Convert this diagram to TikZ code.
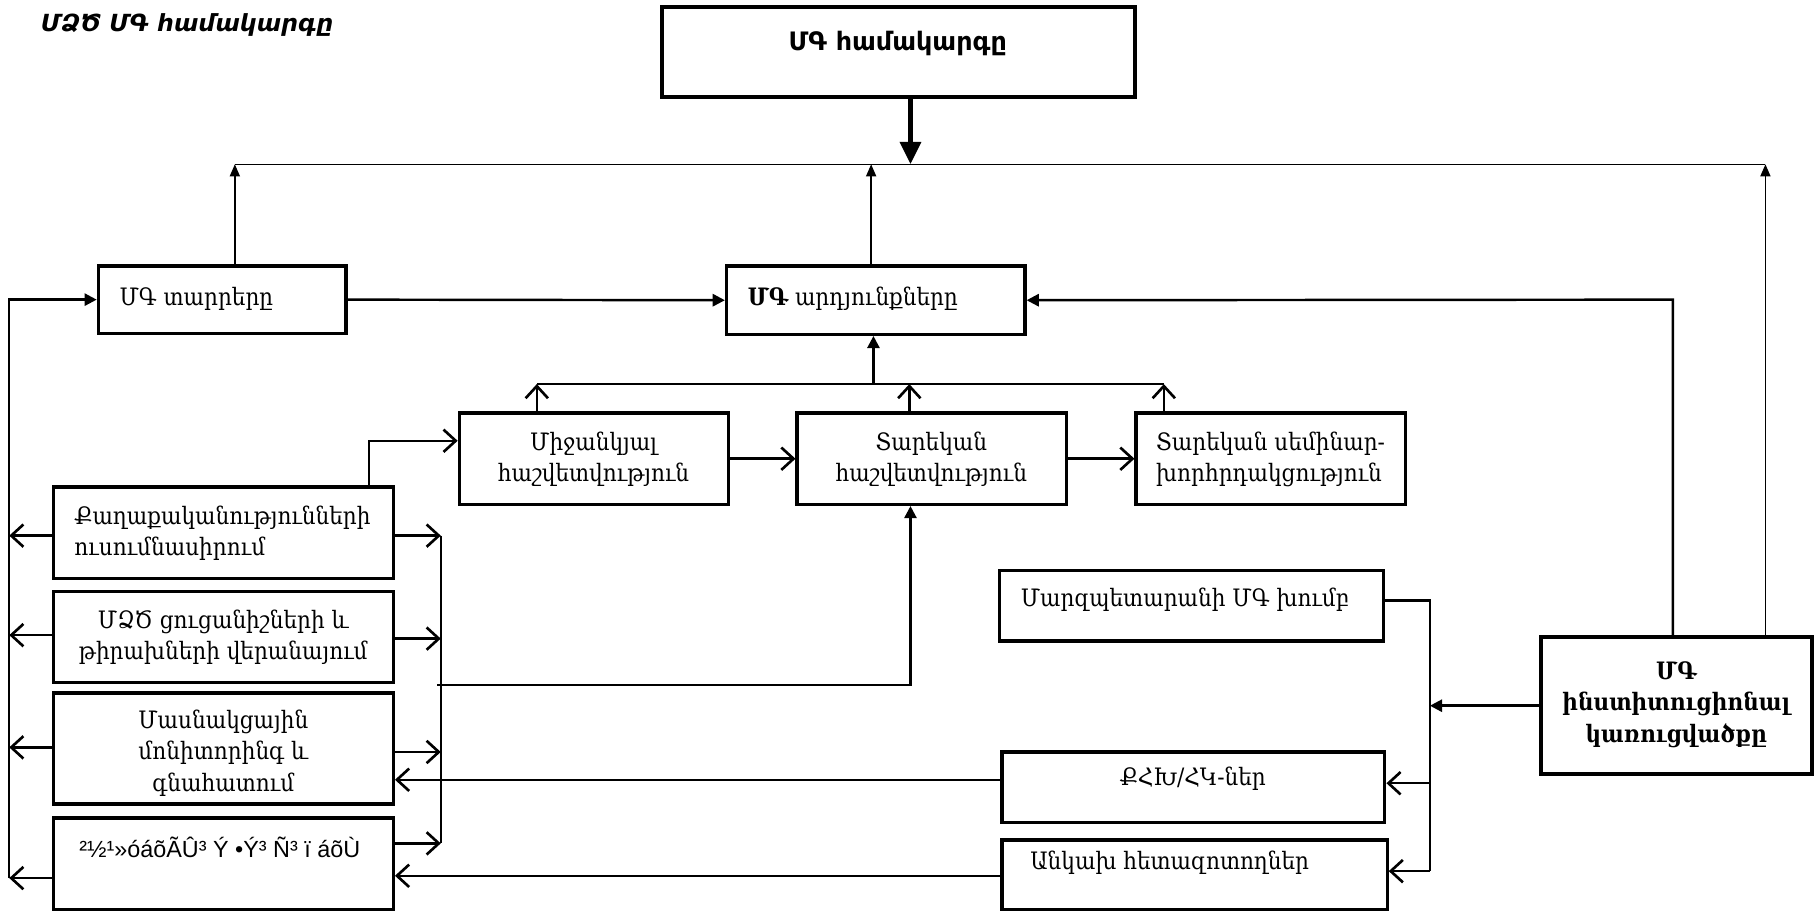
\documentclass[tikz,border=0pt]{standalone}
\usepackage{fontspec}
\setmainfont{DejaVu Serif}[FakeStretch=0.9]
\newfontfamily\armsans{DejaVu Sans}
\newfontfamily\latsans{Liberation Sans}
\usetikzlibrary{arrows.meta,fit}
\begin{document}
\begin{tikzpicture}[x=0.02cm,y=-0.02cm,
  box/.style={draw, line width=1.6pt, inner sep=0pt},
  bigbox/.style={draw, line width=2pt, inner sep=0pt},
  txt/.style={inner sep=0pt, font=\fontsize{11.8}{15.5}\selectfont},
  conn/.style={line width=1.2pt},
  thinline/.style={line width=0.7pt},
  thinarrow/.style={line width=0.7pt, -{Triangle[length=6pt,width=5pt]}},
  fil/.style={line width=1.2pt, -{Triangle[length=6pt,width=6pt]}},
  opn/.style={line width=1.2pt, -{Straight Barb[length=6pt,width=11pt,line width=1.3pt]}},
]
\useasboundingbox (0,0) rectangle (1568,788);

% title
\node[inner sep=0pt, anchor=west, font=\armsans\bfseries\itshape\fontsize{11.6}{14}\selectfont] (title) at (35,22) {ՄՁԾ ՄԳ համակարգը};

% boxes
\node[bigbox, fit={(572,6) (981,84)}] (top) {};
\node[inner sep=0pt, font=\armsans\bfseries\fontsize{12.5}{15}\selectfont] (topt) at (776,38) {ՄԳ համակարգը};

\node[box, fit={(85,230) (299,288)}] (elem) {};
\node[txt, anchor=west] (elemt) at (103,258) {ՄԳ տարրերը};

\node[box, fit={(628,230) (886,289)}] (res) {};
\node[txt, anchor=west] (rest) at (646,258) {{\bfseries ՄԳ} արդյունքները};

\node[box, fit={(397,357) (630,436)}] (mid) {};
\node[txt, align=center] (midt) at (513,397) {Միջանկյալ\\հաշվետվություն};

\node[box, fit={(689,357) (922,436)}] (ann) {};
\node[txt, align=center] (annt) at (805,397) {Տարեկան\\հաշվետվություն};

\node[box, fit={(982,357) (1215,436)}] (sem) {};
\node[txt, align=left, anchor=west] (semt) at (999,397) {Տարեկան սեմինար-\\խորհրդակցություն};

\node[box, fit={(46,421) (340,500)}] (pol) {};
\node[txt, align=left, anchor=west] (polt) at (64,461) {Քաղաքականությունների\\ուսումնասիրում};

\node[box, fit={(46,511) (340,590)}] (ind) {};
\node[txt, align=center] (indt) at (193,551) {ՄՁԾ ցուցանիշների և\\թիրախների վերանայում};

\node[box, fit={(46,599) (340,695)}] (part) {};
\node[txt, align=center] (partt) at (193,651) {Մասնակցային\\մոնիտորինգ և\\գնահատում};

\node[box, fit={(46,707) (340,786)}] (garb) {};
\node[inner sep=0pt, font=\latsans\fontsize{11.5}{14}\selectfont] (garbt) at (190,732) {²½¹»óáõÃÛ³ Ý •Ý³ Ñ³ ï  áõÙ};

\node[box, fit={(864,493) (1196,554)}] (marz) {};
\node[txt, anchor=west] (marzt) at (882,518) {Մարզպետարանի ՄԳ խումբ};

\node[box, fit={(866,650) (1197,711)}] (qhk) {};
\node[txt] (qhkt) at (1031,673) {ՔՀԽ/ՀԿ-ներ};

\node[box, fit={(866,726) (1199,786)}] (ank) {};
\node[txt] (ankt) at (1011,746) {Անկախ հետազոտողներ};

\node[bigbox, fit={(1332,551) (1566,669)}] (inst) {};
\node[txt, align=center, font=\bfseries\fontsize{11.8}{15.5}\selectfont] (instt) at (1449,609) {ՄԳ\\ինստիտուցիոնալ\\կառուցվածքը};

% bus coordinates
\coordinate (tb) at (787,142);
\coordinate (tl) at (203,142);
\coordinate (tr) at (1526,142);
\coordinate (lb1) at (8,259);
\coordinate (lb2) at (8,759);
\coordinate (rb1) at (381,463);
\coordinate (rb2) at (381,729);
\coordinate (br1) at (464,332);
\coordinate (br2) at (1006,332);
\coordinate (brm) at (755,332);
\coordinate (sb1) at (1236,519);
\coordinate (sb2) at (1236,753);
\coordinate (fb) at (378,592);
\coordinate (rr) at (1446,259);
\coordinate (pk) at (319,381);

% top part
\draw[line width=2.6pt, -{Triangle[length=11pt,width=10pt]}] (top.south -| tb) -- (tb);
\draw[thinline] (tl) -- (tr);
\draw[thinarrow] (elem.north -| tl) -- (tl);
\draw[thinarrow] (res.north -| 753,0) -- (753,142);
\draw[thinarrow] (inst.north -| tr) -- (tr);

\draw[fil] (elem.east) -- (res.west);
\draw[fil] (inst.north -| rr) -- (rr) -- (res.east);

% left bus
\draw[fil] (lb2) -- (lb1) -- (elem.west);
\draw[opn] (pol.west |- 0,463) -- (lb1 |- 0,463);
\draw[opn] (ind.west |- 0,549) -- (lb1 |- 0,549);
\draw[opn] (part.west |- 0,646) -- (lb1 |- 0,646);
\draw[opn] (garb.west |- lb2) -- (lb2);

% right bus
\draw[conn] (rb1) -- (rb2);
\draw[opn] (pol.east |- rb1) -- (rb1);
\draw[opn] (ind.east |- 0,552) -- (rb1 |- 0,552);
\draw[opn] (part.east |- 0,650) -- (rb1 |- 0,650);
\draw[opn] (garb.east |- rb2) -- (rb2);
\draw[fil] (fb) -| (ann.south -| 787,0);

% bracket
\draw[conn] (br1) -- (br2);
\draw[fil] (brm) -- (res.south -| brm);
\draw[opn] (mid.north -| br1) -- (br1);
\draw[opn] (ann.north -| 786,0) -- (786,332);
\draw[opn] (sem.north -| br2) -- (br2);

\draw[opn] (mid.east) -- (ann.west);
\draw[opn] (ann.east) -- (sem.west);
\draw[opn] (pol.north -| pk) -- (pk) -- (mid.west |- pk);

% right side
\draw[conn] (marz.east |- sb1) -- (sb1) -- (sb2);
\draw[fil] (inst.west |- 0,610) -- (sb1 |- 0,610);
\draw[opn] (sb1 |- 0,677) -- (qhk.east |- 0,677);
\draw[opn] (sb2) -- (ank.east |- sb2);
\draw[opn] (qhk.west |- 0,674) -- (part.east |- 0,674);
\draw[opn] (ank.west |- 0,757) -- (garb.east |- 0,757);
\end{tikzpicture}
\end{document}
